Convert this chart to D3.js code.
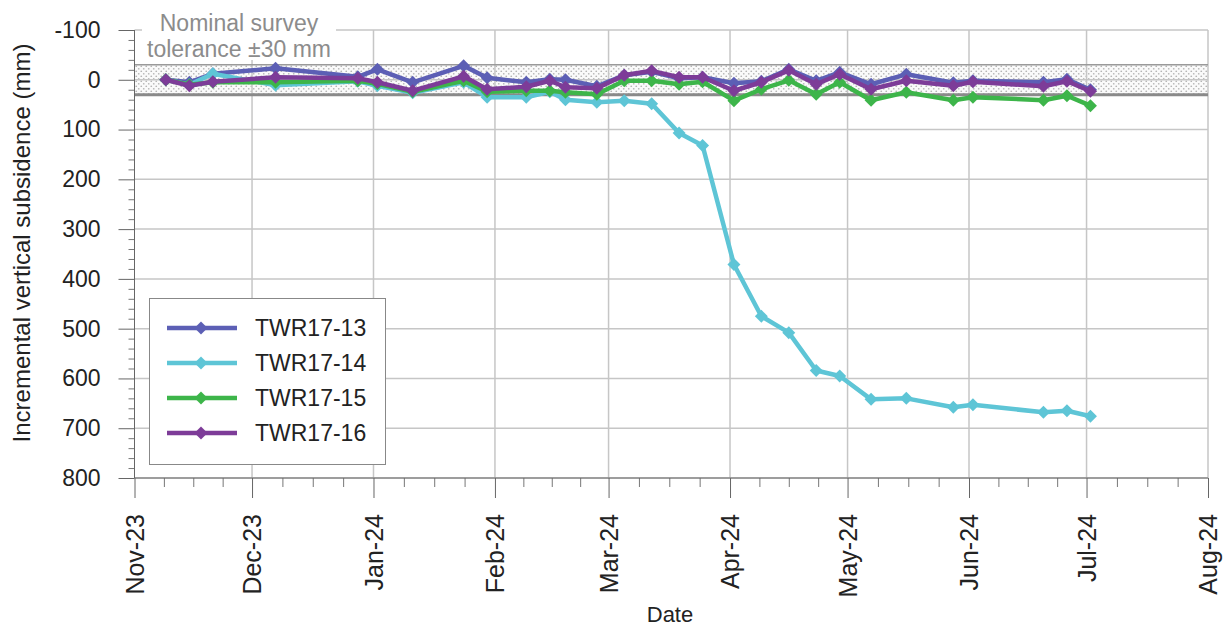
<!DOCTYPE html>
<html>
<head>
<meta charset="utf-8">
<script src="https://cdn.jsdelivr.net/npm/d3@7"></script>
<style>
    body { margin: 0; background: #fff; }
    svg { display: block; font-family: "Liberation Sans", Arial, sans-serif; }
</style>
</head>
<body>
<svg id="chart" width="1223" height="629"></svg>
<script>
//survey dates
const surveyDates = [
    '2023-11-09', '2023-11-15', '2023-11-21', '2023-12-07', '2023-12-28', '2024-01-02',
    '2024-01-11', '2024-01-24', '2024-01-30', '2024-02-09', '2024-02-15', '2024-02-19',
    '2024-02-27', '2024-03-05', '2024-03-12', '2024-03-19', '2024-03-25', '2024-04-02',
    '2024-04-09', '2024-04-16', '2024-04-23', '2024-04-29', '2024-05-07', '2024-05-16',
    '2024-05-28', '2024-06-02', '2024-06-20', '2024-06-26', '2024-07-02'
];

//incremental vertical subsidence (mm) per tower
const twr13 = [0, 5, -12, -23, -6, -21, 5, -28, -4, 5, -1, 0, 13, -9, -16, -3, -5, 7, 3, -21, 2, -15, 9, -11, 6, 2, 5, -1, 20];
const twr14 = [0, 10, -12, 11, 3, 12, 26, 5, 35, 35, 24, 40, 45, 42, 48, 107, 132, 371, 475, 508, 584, 595, 642, 640, 658, 653, 668, 665, 676];
const twr15 = [0, 10, 5, 5, 2, 8, 24, 2, 24, 22, 22, 25, 29, 2, 2, 9, 4, 42, 19, 1, 29, 5, 41, 25, 41, 35, 41, 32, 52];
const twr16 = [0, 12, 4, -5, -3, 5, 22, -7, 19, 14, 2, 15, 17, -9, -18, -5, -5, 22, 5, -19, 9, -11, 19, 2, 12, 4, 13, 3, 23];

const seriesNames = ['TWR17-13', 'TWR17-14', 'TWR17-15', 'TWR17-16'];
const seriesColors = ['#5c5fb5', '#5ec5d6', '#3db54a', '#7d3c98'];

//axis ticks
const yTicks = [-100, 0, 100, 200, 300, 400, 500, 600, 700, 800];
const monthTicks = ['2023-11-01', '2023-12-01', '2024-01-01', '2024-02-01', '2024-03-01',
    '2024-04-01', '2024-05-01', '2024-06-01', '2024-07-01', '2024-08-01'];
const tolerance = 30;

const parse = d3.utcParse('%Y-%m-%d');
const months = monthTicks.map(parse);
const series = [twr13, twr14, twr15, twr16].map((vals, i) => ({
    name: seriesNames[i],
    color: seriesColors[i],
    values: vals.map((v, j) => ({ date: parse(surveyDates[j]), value: v }))
}));

const svg = d3.select('#chart');

const x = d3.scaleUtc()
    .domain([months[0], months[months.length - 1]])
    .range([134.5, 1208]);

const y = d3.scaleLinear()
    .domain([-100, 800])
    .range([30, 478]);

const plotLeft = x.range()[0], plotRight = x.range()[1];
const plotTop = y.range()[0], plotBottom = y.range()[1];

//dotted fill for the tolerance band
const defs = svg.append('defs');
const pattern = defs.append('pattern')
    .attr('id', 'dots')
    .attr('patternUnits', 'userSpaceOnUse')
    .attr('width', 5)
    .attr('height', 5);
pattern.append('rect').attr('width', 5).attr('height', 5).attr('fill', '#fafafa');
pattern.append('circle').attr('cx', 1.25).attr('cy', 1.25).attr('r', 0.85).attr('fill', '#b4b4b4');
pattern.append('circle').attr('cx', 3.75).attr('cy', 3.75).attr('r', 0.85).attr('fill', '#b4b4b4');

svg.append('rect')
    .attr('x', plotLeft)
    .attr('y', y(-tolerance))
    .attr('width', plotRight - plotLeft)
    .attr('height', y(tolerance) - y(-tolerance))
    .attr('fill', 'url(#dots)');

//gridlines
svg.append('g')
    .selectAll('line')
    .data(yTicks)
    .enter()
    .append('line')
    .attr('x1', plotLeft)
    .attr('x2', plotRight)
    .attr('y1', d => y(d))
    .attr('y2', d => y(d))
    .attr('stroke', '#c6c6c6')
    .attr('stroke-width', 1.5);

svg.append('g')
    .selectAll('line')
    .data(months.slice(1))
    .enter()
    .append('line')
    .attr('x1', d => x(d))
    .attr('x2', d => x(d))
    .attr('y1', plotTop)
    .attr('y2', plotBottom)
    .attr('stroke', '#c6c6c6')
    .attr('stroke-width', 1.5);

//tolerance band edges
svg.append('line')
    .attr('x1', plotLeft).attr('x2', plotRight)
    .attr('y1', y(-tolerance)).attr('y2', y(-tolerance))
    .attr('stroke', '#9a9a9a')
    .attr('stroke-width', 1.5);
svg.append('line')
    .attr('x1', plotLeft).attr('x2', plotRight)
    .attr('y1', y(tolerance)).attr('y2', y(tolerance))
    .attr('stroke', '#8a8a8a')
    .attr('stroke-width', 3);

//band label
svg.append('rect')
    .attr('x', 142)
    .attr('y', 12)
    .attr('width', 194)
    .attr('height', 48)
    .attr('fill', '#fff');
svg.append('text')
    .attr('x', 239)
    .attr('y', 31)
    .attr('text-anchor', 'middle')
    .attr('font-size', 23)
    .attr('fill', '#8c8c8c')
    .selectAll('tspan')
    .data(['Nominal survey', 'tolerance \u00b130 mm'])
    .enter()
    .append('tspan')
    .attr('x', 239)
    .attr('dy', (d, i) => i ? 26 : 0)
    .text(d => d);

//left axis
const yAxis = d3.axisLeft(y)
    .tickValues(yTicks)
    .tickSize(16)
    .tickPadding(18)
    .tickFormat(d => String(d));

const yMinor = d3.axisLeft(y)
    .tickValues(d3.range(-100, 801, 20).filter(d => d % 100 !== 0))
    .tickSize(6)
    .tickFormat('');

svg.append('g')
    .attr('transform', `translate(${plotLeft},0)`)
    .call(yMinor)
    .call(g => g.select('.domain').remove())
    .call(g => g.selectAll('line').attr('stroke', '#777'));

svg.append('g')
    .attr('transform', `translate(${plotLeft},0)`)
    .call(yAxis)
    .call(g => g.select('.domain').attr('d', `M0,${plotTop}V${plotBottom}`).attr('stroke', '#666'))
    .call(g => g.selectAll('line').attr('stroke', '#666'))
    .call(g => g.selectAll('text')
        .attr('font-size', 23)
        .attr('fill', '#222')
        .attr('font-family', '"Liberation Sans", Arial, sans-serif'));

//bottom axis
const quarterTicks = [];
for (let i = 0; i < months.length - 1; i++) {
    const a = +months[i], b = +months[i + 1];
    for (let k = 1; k < 4; k++) quarterTicks.push(new Date(a + (b - a) * k / 4));
}

svg.append('g')
    .attr('transform', `translate(0,${plotBottom})`)
    .call(d3.axisBottom(x).tickValues(quarterTicks).tickSize(9).tickFormat(''))
    .call(g => g.select('.domain').remove())
    .call(g => g.selectAll('line').attr('stroke', '#777'));

svg.append('g')
    .attr('transform', `translate(0,${plotBottom})`)
    .call(d3.axisBottom(x).tickValues(months).tickSize(20).tickFormat(d3.utcFormat('%b-%y')))
    .call(g => g.select('.domain').attr('d', `M${plotLeft},0H${plotRight}`).attr('stroke', '#666'))
    .call(g => g.selectAll('line').attr('stroke', '#666'))
    .call(g => g.selectAll('text')
        .attr('font-size', 25)
        .attr('fill', '#222')
        .attr('font-family', '"Liberation Sans", Arial, sans-serif')
        .attr('text-anchor', 'end')
        .attr('transform', 'rotate(-90)')
        .attr('x', -36)
        .attr('y', 0)
        .attr('dy', '0.35em'));

//axis titles
svg.append('text')
    .attr('transform', 'translate(22,243) rotate(-90)')
    .attr('text-anchor', 'middle')
    .attr('dy', '0.35em')
    .attr('font-size', 24)
    .attr('fill', '#222')
    .text('Incremental vertical subsidence (mm)');

svg.append('text')
    .attr('x', 670)
    .attr('y', 614)
    .attr('text-anchor', 'middle')
    .attr('dy', '0.35em')
    .attr('font-size', 22)
    .attr('fill', '#222')
    .text('Date');

//series lines and diamond markers
const line = d3.line()
    .x(d => x(d.date))
    .y(d => y(d.value));

const diamond = d3.symbol(d3.symbolSquare, 84);

const groups = svg.append('g')
    .selectAll('g')
    .data(series)
    .enter()
    .append('g');

groups.append('path')
    .attr('d', d => line(d.values))
    .attr('fill', 'none')
    .attr('stroke', d => d.color)
    .attr('stroke-width', 4.5)
    .attr('stroke-linejoin', 'round');

groups.selectAll('path.marker')
    .data(d => d.values.map(v => ({ ...v, color: d.color })))
    .enter()
    .append('path')
    .attr('class', 'marker')
    .attr('d', diamond)
    .attr('transform', d => `translate(${x(d.date)},${y(d.value)}) rotate(45)`)
    .attr('fill', d => d.color);

//legend
const legend = svg.append('g').attr('id', 'legend');
legend.append('rect')
    .attr('x', 149.5)
    .attr('y', 298.5)
    .attr('width', 236)
    .attr('height', 166)
    .attr('fill', '#fff')
    .attr('stroke', '#888')
    .attr('stroke-width', 1);

const items = legend.selectAll('g.item')
    .data(series)
    .enter()
    .append('g')
    .attr('class', 'item')
    .attr('transform', (d, i) => `translate(0,${328 + i * 35})`);

items.append('line')
    .attr('x1', 167)
    .attr('x2', 237)
    .attr('stroke', d => d.color)
    .attr('stroke-width', 4.5);

items.append('path')
    .attr('d', diamond)
    .attr('transform', 'translate(201,0) rotate(45)')
    .attr('fill', d => d.color);

items.append('text')
    .attr('x', 255)
    .attr('dy', '0.36em')
    .attr('font-size', 23)
    .attr('fill', '#222')
    .text(d => d.name);
</script>
</body>
</html>
